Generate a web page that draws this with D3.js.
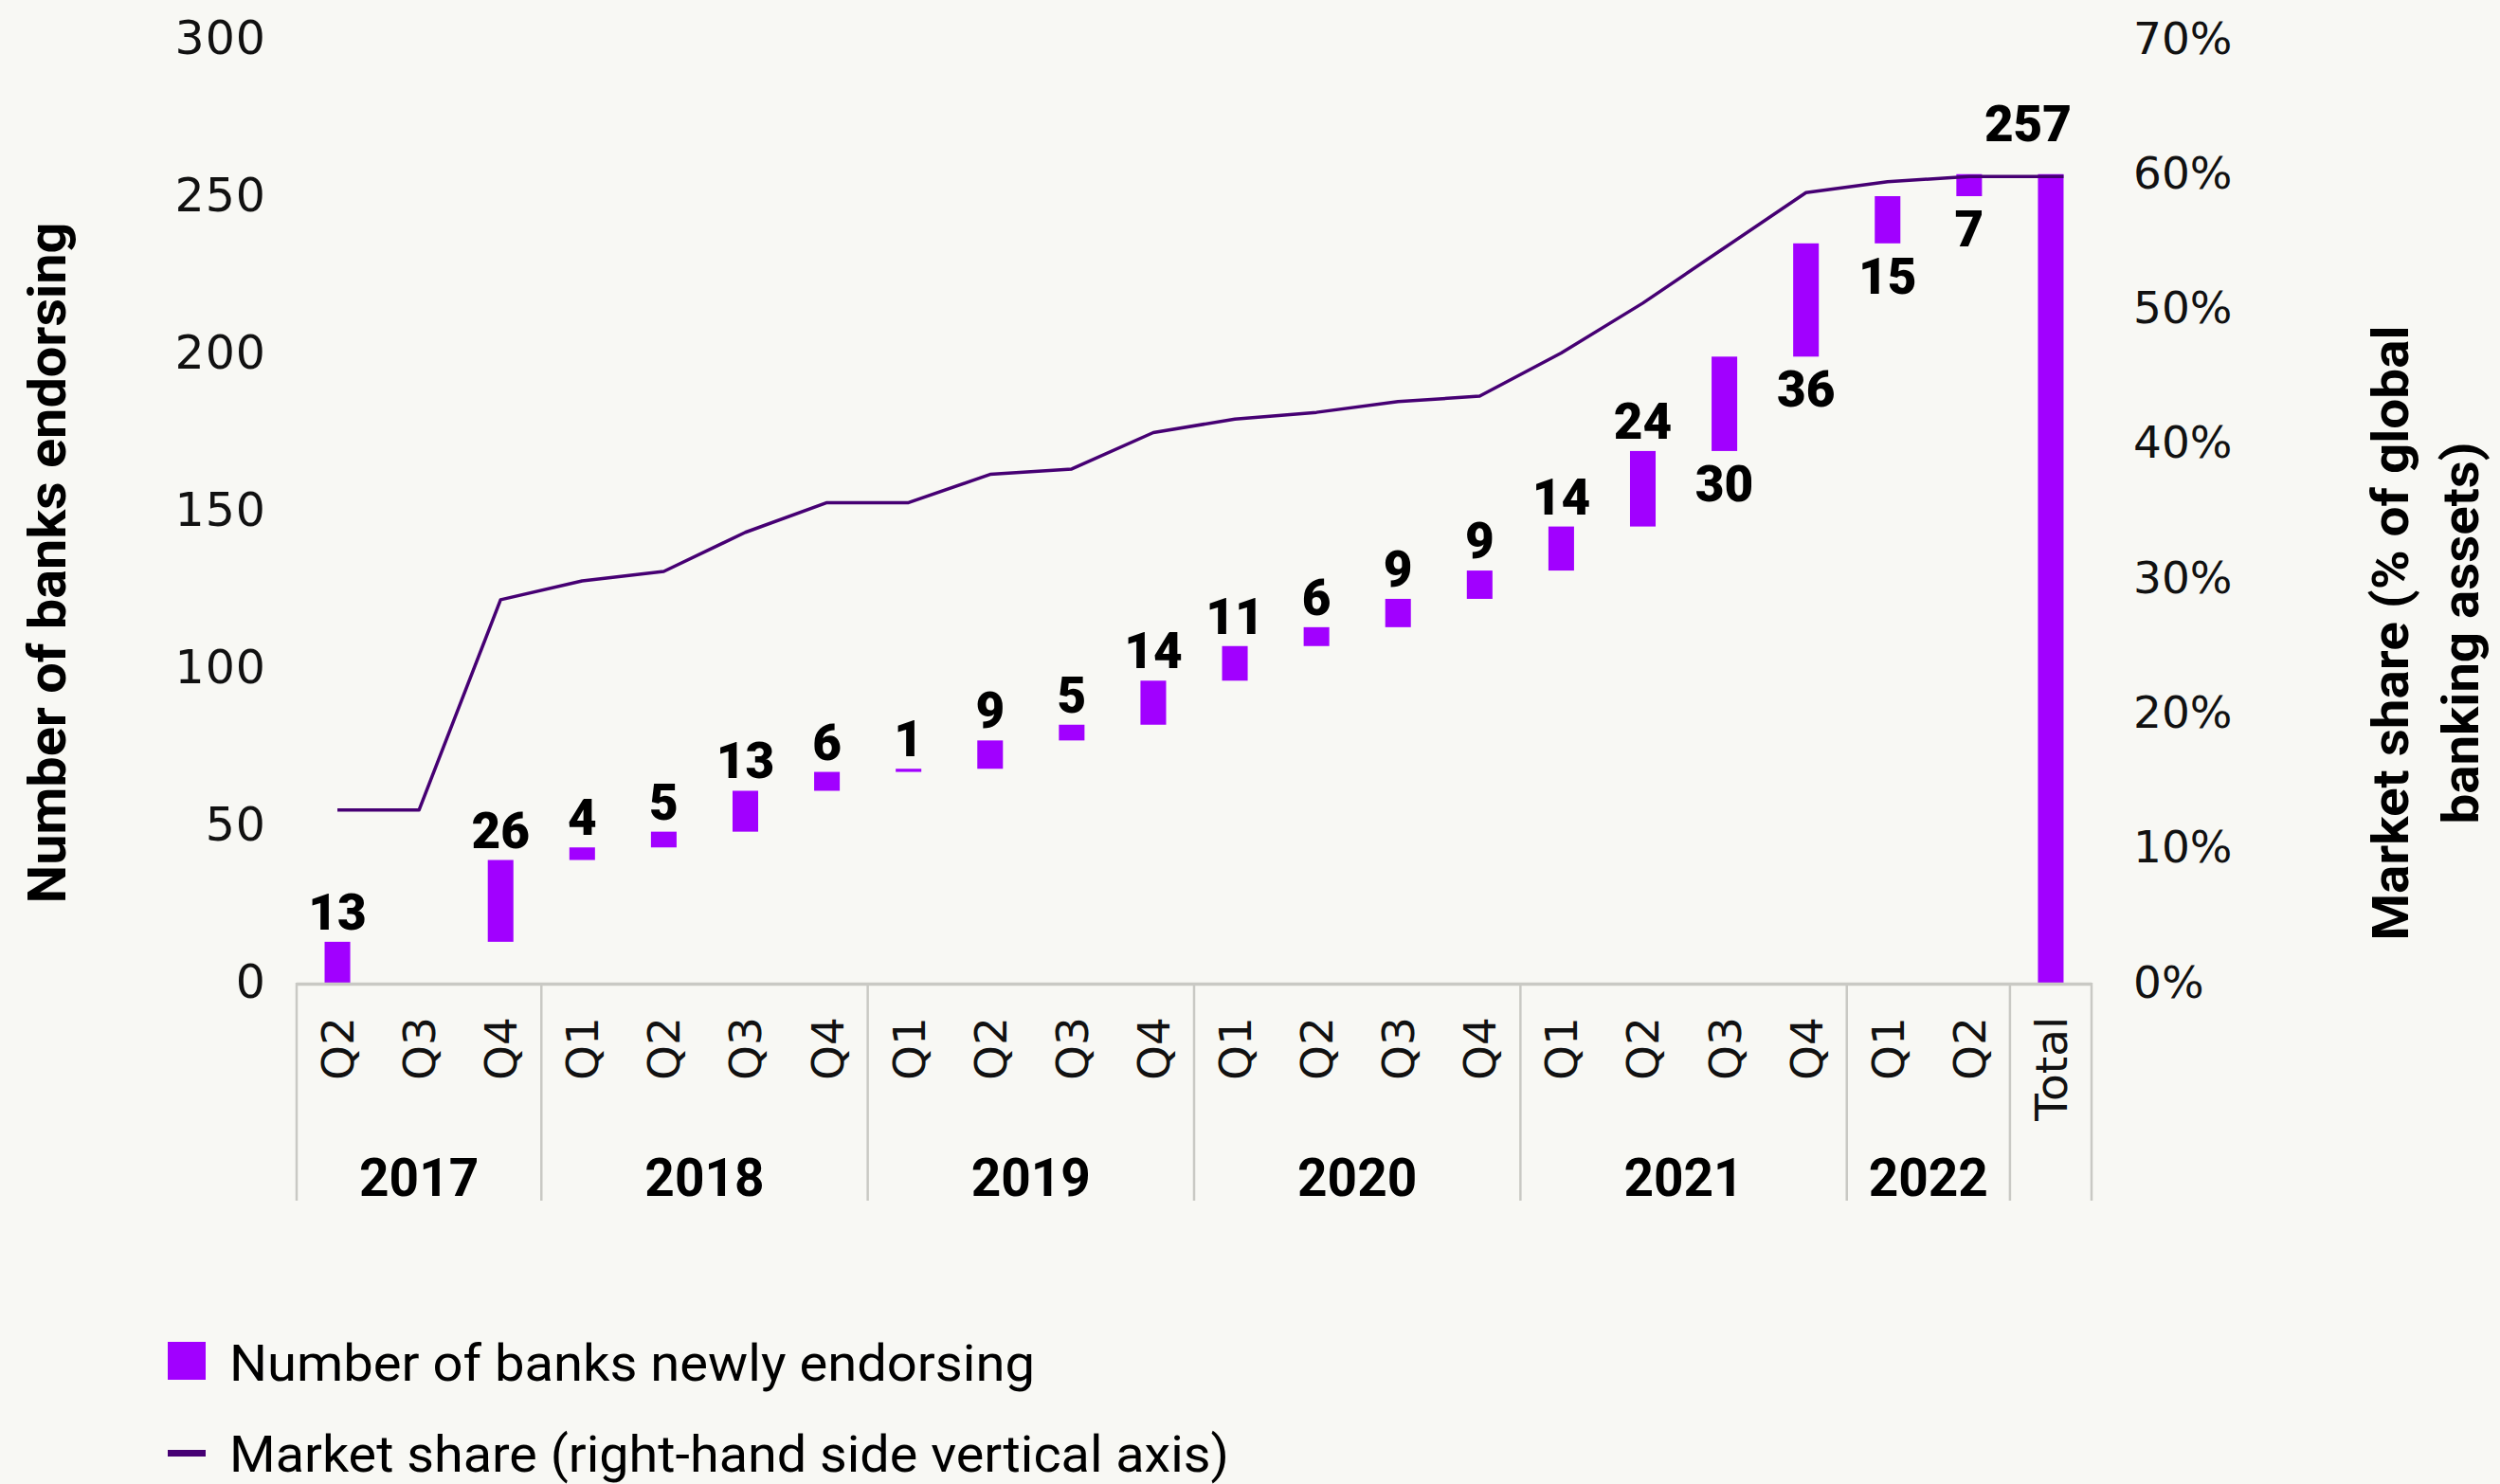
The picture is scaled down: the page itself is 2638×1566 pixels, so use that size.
<!DOCTYPE html>
<html>
<head>
<meta charset="utf-8">
<script src="https://cdn.jsdelivr.net/npm/d3@7"></script>
<style>
  html, body { margin: 0; padding: 0; background: #f8f8f4; }
  svg { display: block; }
</style>
</head>
<body>
<svg id="chart" width="2638" height="1566"></svg>
<script>
// Quarterly endorsements of the Principles for Responsible Banking
const quarterLabels = ['Q2','Q3','Q4','Q1','Q2','Q3','Q4','Q1','Q2','Q3','Q4',
                       'Q1','Q2','Q3','Q4','Q1','Q2','Q3','Q4','Q1','Q2','Total'];
const yearLabels = ['2017','2018','2019','2020','2021','2022'];
const quartersPerYear = [3, 4, 4, 4, 4, 2];
const newBanks = [13, 0, 26, 4, 5, 13, 6, 1, 9, 5, 14, 11, 6, 9, 9, 14, 24, 30, 36, 15, 7];
const totalBanks = 257;
// share of global banking assets, in percent
const marketShare = [12.8, 12.8, 28.4, 29.8, 30.5, 33.4, 35.6, 35.6, 37.7, 38.1, 40.8,
                     41.8, 42.3, 43.1, 43.5, 46.7, 50.4, 54.5, 58.6, 59.4, 59.8, 59.8];
const leftTicks = [0, 50, 100, 150, 200, 250, 300];
const rightTicks = [0, 10, 20, 30, 40, 50, 60, 70];

const BAR = '#a100ff';
const LINE = '#460073';
const GRID = '#c9c9c4';

const svg = d3.select('#chart');
const plot = { left: 313, right: 2207, top: 41, bottom: 1037 };

const x = d3.scaleBand()
  .domain(d3.range(quarterLabels.length))
  .range([plot.left, plot.right])
  .paddingInner(0.686)
  .paddingOuter(0.343);
const y = d3.scaleLinear().domain([0, 300]).range([plot.bottom, plot.top]);
const y2 = d3.scaleLinear().domain([0, 70]).range([plot.bottom, plot.top]);

// waterfall segments: each quarter floats on the running total
let running = 0;
const bars = newBanks.map((v, i) => {
  const seg = { i, value: v, from: running, to: running + v };
  running += v;
  return seg;
});
bars.push({ i: quarterLabels.length - 1, value: totalBanks, from: 0, to: totalBanks, total: true });

const tickFont = '"DejaVu Sans", sans-serif';

// left axis
const gl = svg.append('g')
  .attr('transform', `translate(${plot.left},0)`)
  .call(d3.axisLeft(y).tickValues(leftTicks).tickSize(0).tickPadding(32));
gl.select('.domain').remove();
gl.selectAll('text')
  .attr('font-family', tickFont).attr('font-size', 49).attr('fill', '#111')
  .attr('letter-spacing', 1);

// right axis
const gr = svg.append('g')
  .attr('transform', `translate(${plot.right},0)`)
  .call(d3.axisRight(y2).tickValues(rightTicks).tickSize(0).tickPadding(44)
    .tickFormat(d => d + '%'));
gr.select('.domain').remove();
gr.selectAll('text')
  .attr('font-family', tickFont).attr('font-size', 47).attr('fill', '#111');

// bars
svg.append('g').selectAll('rect')
  .data(bars.filter(b => b.value > 0))
  .join('rect')
  .attr('x', b => x(b.i))
  .attr('width', x.bandwidth())
  .attr('y', b => y(b.to))
  .attr('height', b => y(b.from) - y(b.to))
  .attr('fill', BAR);

// market share line; the last point reaches the far edge of the total bar
const lastIdx = marketShare.length - 1;
const line = d3.line()
  .x((d, i) => i === lastIdx ? x(i) + x.bandwidth() : x(i) + x.bandwidth() / 2)
  .y(d => y2(d));
svg.append('path')
  .datum(marketShare)
  .attr('d', line)
  .attr('fill', 'none')
  .attr('stroke', LINE)
  .attr('stroke-width', 3.5)
  .attr('stroke-linejoin', 'round');

// value labels: above the bar, except where the share line crowds them;
// the total sits clear of the line that runs along its top
const labelBelow = i => i >= 17 && i <= 20;
svg.append('g').selectAll('text')
  .data(bars.filter(b => b.value > 0))
  .join('text')
  .attr('x', b => x(b.i) + x.bandwidth() / 2 + (b.total ? -24 : 0))
  .attr('y', b => b.total ? y(b.to) - 35
    : labelBelow(b.i) ? y(b.from) + 53 : y(b.to) - 13)
  .attr('text-anchor', 'middle')
  .attr('font-family', 'Roboto, sans-serif')
  .attr('font-weight', 900)
  .attr('font-size', 53)
  .attr('fill', '#000')
  .text(b => b.value);

// category axis
const axisG = svg.append('g');
axisG.append('line')
  .attr('x1', plot.left).attr('x2', plot.right)
  .attr('y1', plot.bottom + 1.5).attr('y2', plot.bottom + 1.5)
  .attr('stroke', GRID).attr('stroke-width', 3.5);

// group separators between years and around the total
const sepIdx = [0];
quartersPerYear.reduce((acc, n) => { sepIdx.push(acc + n); return acc + n; }, 0);
sepIdx.push(quarterLabels.length);
axisG.selectAll('line.sep')
  .data(sepIdx)
  .join('line')
  .attr('class', 'sep')
  .attr('x1', k => plot.left + k * x.step())
  .attr('x2', k => plot.left + k * x.step())
  .attr('y1', plot.bottom)
  .attr('y2', 1267)
  .attr('stroke', GRID).attr('stroke-width', 2.5);

axisG.selectAll('text.q')
  .data(quarterLabels)
  .join('text')
  .attr('class', 'q')
  .attr('transform', (d, i) => `translate(${x(i) + x.bandwidth() / 2},1073) rotate(-90)`)
  .attr('dy', '0.36em')
  .attr('text-anchor', 'end')
  .attr('font-family', tickFont)
  .attr('font-size', 47)
  .attr('fill', '#111')
  .text(d => d);

axisG.selectAll('text.yr')
  .data(yearLabels)
  .join('text')
  .attr('class', 'yr')
  .attr('x', (d, k) => plot.left + (sepIdx[k] + sepIdx[k + 1]) / 2 * x.step())
  .attr('y', 1262)
  .attr('text-anchor', 'middle')
  .attr('font-family', 'Roboto, sans-serif')
  .attr('font-weight', 700)
  .attr('font-size', 55)
  .attr('fill', '#000')
  .text(d => d);

// axis titles
svg.append('text')
  .attr('transform', 'translate(69,594) rotate(-90)')
  .attr('text-anchor', 'middle')
  .attr('font-family', 'Roboto, sans-serif')
  .attr('font-weight', 700)
  .attr('font-size', 56)
  .attr('textLength', 719)
  .attr('lengthAdjust', 'spacingAndGlyphs')
  .text('Number of banks endorsing');

const rightTitle = ['Market share (% of global', 'banking assets)'];
const rightLens = [649, 403];
svg.append('g').selectAll('text')
  .data(rightTitle)
  .join('text')
  .attr('transform', (d, i) => `translate(${2541 + i * 74},668) rotate(-90)`)
  .attr('text-anchor', 'middle')
  .attr('font-family', 'Roboto, sans-serif')
  .attr('font-weight', 700)
  .attr('font-size', 54)
  .attr('textLength', (d, i) => rightLens[i])
  .attr('lengthAdjust', 'spacingAndGlyphs')
  .text(d => d);

// legend
const legend = svg.append('g');
legend.append('rect')
  .attr('x', 177).attr('y', 1416).attr('width', 40).attr('height', 40)
  .attr('fill', BAR);
legend.append('rect')
  .attr('x', 177).attr('y', 1530).attr('width', 40).attr('height', 7)
  .attr('fill', LINE);
const legendItems = ['Number of banks newly endorsing', 'Market share (right-hand side vertical axis)'];
const legendLens = [850, 1055];
legend.selectAll('text')
  .data(legendItems)
  .join('text')
  .attr('x', 242)
  .attr('y', (d, i) => 1457 + i * 96)
  .attr('font-family', 'Roboto, sans-serif')
  .attr('font-weight', 400)
  .attr('font-size', 53)
  .attr('textLength', (d, i) => legendLens[i])
  .attr('lengthAdjust', 'spacingAndGlyphs')
  .attr('fill', '#000')
  .text(d => d);
</script>
</body>
</html>
